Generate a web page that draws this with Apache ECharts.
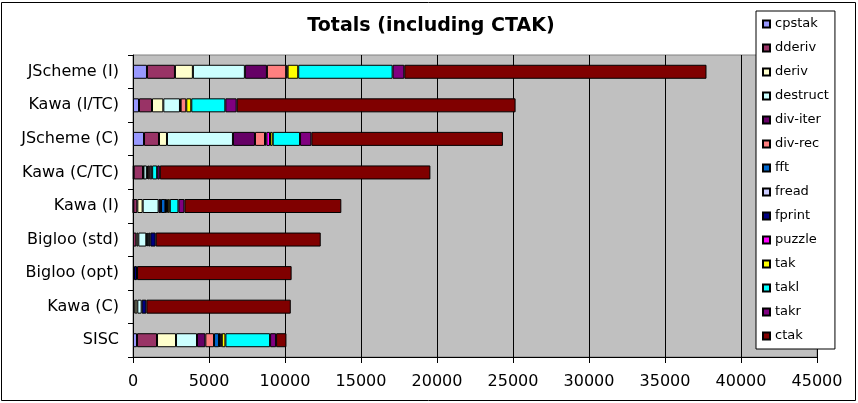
<!DOCTYPE html>
<html>
<head>
<meta charset="utf-8">
<title>Totals (including CTAK)</title>
<script src="https://cdn.jsdelivr.net/npm/echarts@6/dist/echarts.min.js"></script>
<style>
  html, body { margin: 0; padding: 0; background: #fff; }
  #chart { width: 858px; height: 403px; }
</style>
</head>
<body>
<div id="chart"></div>
<script>
// categories, top to bottom
var systems = ['JScheme (I)', 'Kawa (I/TC)', 'JScheme (C)', 'Kawa (C/TC)', 'Kawa (I)',
               'Bigloo (std)', 'Bigloo (opt)', 'Kawa (C)', 'SISC'];

// one array per benchmark, same order as systems
var cpstak   = [920, 395, 725, 45, 20, 0, 0, 0, 265];
var dderiv   = [1840, 855, 985, 615, 265, 220, 0, 110, 1315];
var deriv    = [1180, 745, 525, 30, 350, 130, 0, 175, 1250];
var destruct = [3420, 1095, 4340, 220, 1050, 525, 65, 285, 1380];
var divIter  = [1450, 45, 1450, 65, 130, 65, 0, 0, 550];
var divRec   = [1270, 370, 660, 130, 30, 0, 0, 0, 570];
var fft      = [0, 0, 0, 0, 285, 90, 0, 0, 330];
var fread    = [0, 0, 90, 155, 30, 110, 0, 0, 30];
var fprint   = [0, 0, 0, 0, 65, 350, 200, 310, 60];
var puzzle   = [90, 0, 240, 0, 65, 0, 0, 0, 90];
var tak      = [700, 330, 175, 0, 130, 0, 0, 0, 240];
var takl     = [6210, 2240, 1800, 330, 570, 0, 0, 0, 2940];
var takr     = [770, 745, 745, 175, 395, 0, 0, 0, 395];
var ctak     = [19880, 18350, 12600, 17800, 10320, 10860, 10170, 9500, 680];

var xTicks = { min: 0, max: 45000, interval: 5000 };

// name, data, colour (excel default palette)
var benches = [
  ['cpstak', cpstak, '#9999FF'],
  ['dderiv', dderiv, '#993366'],
  ['deriv', deriv, '#FFFFCC'],
  ['destruct', destruct, '#CCFFFF'],
  ['div-iter', divIter, '#660066'],
  ['div-rec', divRec, '#FF8080'],
  ['fft', fft, '#0066CC'],
  ['fread', fread, '#CCCCFF'],
  ['fprint', fprint, '#000080'],
  ['puzzle', puzzle, '#FF00FF'],
  ['tak', tak, '#FFFF00'],
  ['takl', takl, '#00FFFF'],
  ['takr', takr, '#800080'],
  ['ctak', ctak, '#800000']
];

var series = benches.map(function (b) {
  return {
    name: b[0],
    type: 'bar',
    stack: 'total',
    barWidth: 14,
    // empty segments are skipped so they don't leave a border line
    data: b[1].map(function (v) { return v === 0 ? '-' : v; }),
    itemStyle: { color: b[2], borderColor: '#000', borderWidth: 1 }
  };
});

var myChart = echarts.init(document.getElementById('chart'));
myChart.setOption({
  animation: false,
  title: {
    text: 'Totals (including CTAK)',
    left: 426,
    textAlign: 'center',
    top: 12,
    textStyle: { fontFamily: 'DejaVu Sans', fontWeight: 'bold', fontSize: 19, color: '#000' }
  },
  legend: {
    orient: 'vertical',
    left: 756,
    top: 11,
    padding: [6, 6, 6, 6],
    itemWidth: 7,
    itemHeight: 7,
    itemGap: 10,
    backgroundColor: '#fff',
    borderColor: '#000',
    borderWidth: 1,
    borderRadius: 0,
    icon: 'rect',
    textStyle: { fontFamily: 'DejaVu Sans', fontSize: 13, lineHeight: 14, color: '#000' },
    data: benches.map(function (b) { return b[0]; })
  },
  grid: {
    left: 133,
    right: 41,
    top: 55,
    bottom: 46,
    show: true,
    backgroundColor: '#C0C0C0',
    borderColor: '#808080',
    borderWidth: 1
  },
  xAxis: {
    type: 'value',
    min: xTicks.min,
    max: xTicks.max,
    interval: xTicks.interval,
    axisLine: { show: true, lineStyle: { color: '#000' } },
    axisTick: { show: true, length: 6, lineStyle: { color: '#000' } },
    axisLabel: {
      margin: 17, fontFamily: 'DejaVu Sans', fontSize: 16, color: '#000',
      formatter: function (v) { return String(v); }
    },
    splitLine: { show: true, lineStyle: { color: '#000', width: 1 } }
  },
  yAxis: {
    type: 'category',
    data: systems,
    inverse: true,
    axisLine: { show: true, lineStyle: { color: '#000' } },
    axisTick: { show: true, length: 5, lineStyle: { color: '#000' } },
    axisLabel: { margin: 14, fontFamily: 'DejaVu Sans', fontSize: 16, color: '#000' },
    splitLine: { show: false }
  },
  graphic: [{
    type: 'rect',
    shape: { x: 1.5, y: 2.5, width: 854, height: 398 },
    style: { fill: null, stroke: '#000', lineWidth: 1 },
    silent: true
  }],
  series: series
});
</script>
</body>
</html>
